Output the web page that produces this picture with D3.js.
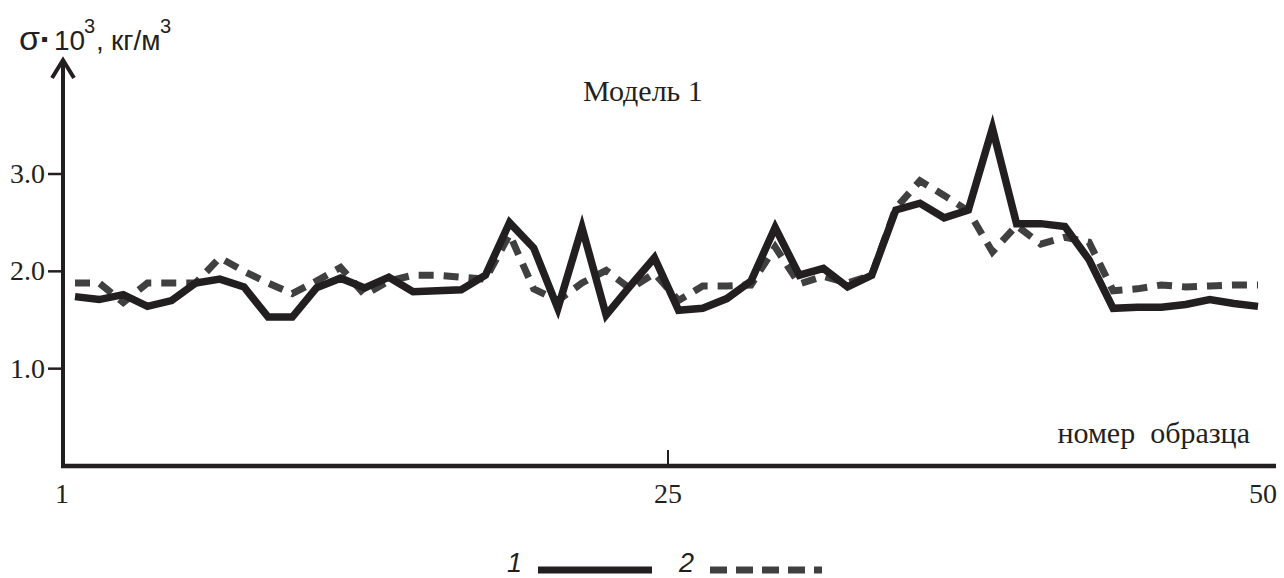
<!DOCTYPE html>
<html>
<head>
<meta charset="utf-8">
<script src="https://cdn.jsdelivr.net/npm/d3@7"></script>
<style>
  body { margin: 0; background: #fff; }
  svg { display: block; }
  .serif { font-family: "Liberation Serif", "Times New Roman", serif; fill: #231f20; }
  .sans { font-family: "Liberation Sans", Arial, sans-serif; fill: #231f20; }
</style>
</head>
<body>
<svg width="1284" height="578"></svg>
<script>
// sample numbers 1..50
var samples = d3.range(1, 51);

// curve 1 (solid) and curve 2 (dashed), sigma * 10^3, kg/m^3
var curve1 = [1.74, 1.71, 1.76, 1.64, 1.70, 1.88, 1.92, 1.84, 1.53, 1.53,
              1.83, 1.93, 1.83, 1.94, 1.79, 1.80, 1.81, 1.96, 2.50, 2.24,
              1.62, 2.45, 1.55, 1.85, 2.14, 1.60, 1.62, 1.72, 1.90, 2.45,
              1.96, 2.03, 1.84, 1.96, 2.63, 2.70, 2.55, 2.63, 3.47, 2.49,
              2.49, 2.46, 2.12, 1.62, 1.63, 1.63, 1.66, 1.71, 1.67, 1.64];
var curve2 = [1.88, 1.88, 1.68, 1.88, 1.88, 1.88, 2.14, 2.00, 1.88, 1.77,
              1.90, 2.04, 1.76, 1.90, 1.96, 1.96, 1.94, 1.92, 2.38, 1.82,
              1.70, 1.88, 2.01, 1.82, 1.98, 1.70, 1.85, 1.85, 1.86, 2.25,
              1.87, 1.95, 1.88, 1.96, 2.65, 2.93, 2.78, 2.62, 2.20, 2.47,
              2.28, 2.35, 2.30, 1.80, 1.82, 1.86, 1.84, 1.85, 1.86, 1.86];

var xTickValues = [1, 25, 50];
var yTickValues = [1, 2, 3];
var title = "Модель 1";
var xTitle = "номер\u00a0 образца";
var legendLabels = ["1", "2"];

var svg = d3.select("svg"),
    width = +svg.attr("width"),
    height = +svg.attr("height");

var x = d3.scaleLinear().domain([1, 50]).range([75, 1258]);                // data points
var xAxisScale = d3.scaleLinear().domain([1, 25, 50]).range([62, 668, 1263]); // axis labels (hand drawn)
var y = d3.scaleLinear().domain([0, 3]).range([466, 174]);

var ink = "#231f20", grey = "#404040";

// axes
var x0 = 63, yTop = 60;
svg.append("path")
  .attr("d", "M" + x0 + "," + y(0) + "V" + (yTop + 2))
  .attr("stroke", ink).attr("stroke-width", 4).attr("fill", "none");
svg.append("path")
  .attr("d", "M" + (x0 - 11) + "," + (yTop + 18) + "L" + x0 + "," + yTop + "L" + (x0 + 11) + "," + (yTop + 18))
  .attr("stroke", ink).attr("stroke-width", 4).attr("fill", "none")
  .attr("stroke-linejoin", "miter");
svg.append("path")
  .attr("d", "M" + (x0 - 2) + "," + y(0) + "H1276")
  .attr("stroke", ink).attr("stroke-width", 4.5).attr("fill", "none");

// y ticks
var yAxis = svg.append("g");
yTickValues.forEach(function(v) {
  yAxis.append("line")
    .attr("x1", 48).attr("x2", x0).attr("y1", y(v)).attr("y2", y(v))
    .attr("stroke", ink).attr("stroke-width", 2.5);
  yAxis.append("text").attr("class", "serif")
    .attr("x", 45).attr("y", y(v) + 9)
    .attr("text-anchor", "end").attr("font-size", 28)
    .text(d3.format(".1f")(v));
});

// x ticks
xTickValues.forEach(function(v) {
  svg.append("text").attr("class", "serif")
    .attr("x", xAxisScale(v)).attr("y", 503)
    .attr("text-anchor", "middle").attr("font-size", 28)
    .text(v);
});
svg.append("line")
  .attr("x1", xAxisScale(25)).attr("x2", xAxisScale(25))
  .attr("y1", y(0)).attr("y2", y(0) - 16)
  .attr("stroke", ink).attr("stroke-width", 2);

// y title: sigma · 10^3, kg/m^3
var yt = svg.append("text").attr("class", "sans").attr("font-size", 28);
yt.append("tspan").attr("x", 19).attr("y", 50).attr("font-size", 34).text("σ");
yt.append("tspan").attr("x", 41).attr("y", 46).attr("font-size", 20).text("▪");
yt.append("tspan").attr("x", 54).attr("y", 50).text("10");
yt.append("tspan").attr("x", 84).attr("y", 33).attr("font-size", 20).text("3");
yt.append("tspan").attr("x", 96).attr("y", 50).text(",");
yt.append("tspan").attr("x", 111).attr("y", 50).text("кг/м");
yt.append("tspan").attr("x", 160).attr("y", 33).attr("font-size", 20).text("3");

// title
svg.append("text").attr("class", "serif")
  .attr("x", 583).attr("y", 101).attr("font-size", 30)
  .text(title);

svg.append("text").attr("class", "serif")
  .attr("x", 1250).attr("y", 443).attr("text-anchor", "end").attr("font-size", 30)
  .text(xTitle);

// lines
var line = d3.line()
  .x(function(d) { return x(d[0]); })
  .y(function(d) { return y(d[1]); });

svg.append("path")
  .datum(d3.zip(samples, curve2))
  .attr("d", line)
  .attr("fill", "none").attr("stroke", grey).attr("stroke-width", 7)
  .attr("stroke-dasharray", "15,10");

svg.append("path")
  .datum(d3.zip(samples, curve1))
  .attr("d", line)
  .attr("fill", "none").attr("stroke", ink).attr("stroke-width", 7.5)
  .attr("stroke-linejoin", "miter").attr("stroke-miterlimit", 10);

// legend
var legend = svg.append("g");
legend.append("text").attr("class", "sans").attr("font-style", "italic")
  .attr("x", 507).attr("y", 572).attr("font-size", 27).text(legendLabels[0]);
legend.append("line").attr("x1", 538).attr("x2", 652).attr("y1", 570).attr("y2", 570)
  .attr("stroke", ink).attr("stroke-width", 7);
legend.append("text").attr("class", "sans").attr("font-style", "italic")
  .attr("x", 679).attr("y", 572).attr("font-size", 27).text(legendLabels[1]);
legend.append("line").attr("x1", 710).attr("x2", 822).attr("y1", 570).attr("y2", 570)
  .attr("stroke", grey).attr("stroke-width", 7).attr("stroke-dasharray", "17,9");
</script>
</body>
</html>
